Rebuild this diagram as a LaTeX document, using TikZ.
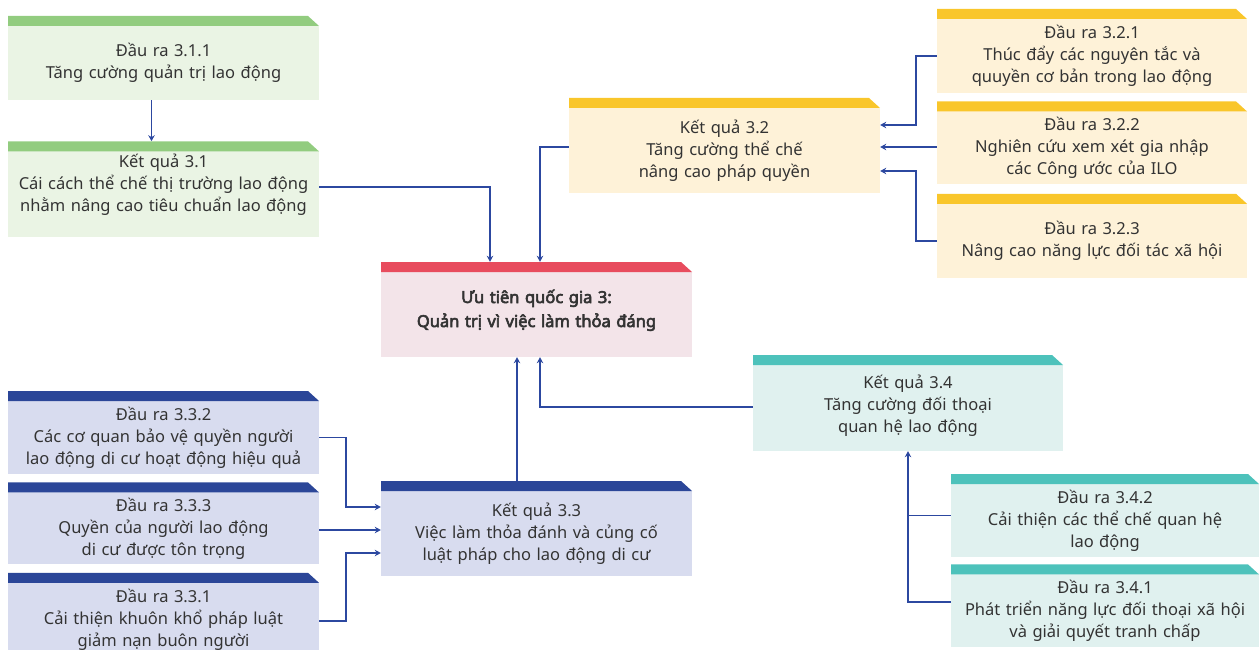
\documentclass[tikz,border=0pt]{standalone}
\usepackage{fontspec}
\setmainfont{Noto Sans}[AutoFakeBold=3.5]
\usepackage{xcolor}
\usetikzlibrary{arrows.meta,positioning}

\definecolor{grnbar}{HTML}{92CC7F}
\definecolor{grnbody}{HTML}{EAF4E4}
\definecolor{ylwbar}{HTML}{F9C62B}
\definecolor{ylwbody}{HTML}{FEF2D8}
\definecolor{redbar}{HTML}{E84C5E}
\definecolor{redbody}{HTML}{F3E4E9}
\definecolor{navbar}{HTML}{2B4698}
\definecolor{navbody}{HTML}{D8DCEF}
\definecolor{tealbar}{HTML}{4DC2BB}
\definecolor{tealbody}{HTML}{E0F1EF}
\definecolor{arrblue}{HTML}{2C48A0}
\definecolor{txtgray}{HTML}{333333}

\begin{document}
\begin{tikzpicture}[
      x=1pt, y=-1pt,
      mybox/.style 2 args={
         rectangle,
         inner sep=0pt,
         minimum width=311pt,
         minimum height=84pt,
         text width=300pt,
         align=center,
         text=txtgray,
         font=\fontsize{16.5}{22}\selectfont,
         execute at begin node={\rule{0pt}{26pt}},
         execute at end node={\rule[-6pt]{0pt}{6pt}},
         path picture={
            \fill[#2] (path picture bounding box.south west) rectangle ([yshift=-10pt]path picture bounding box.north east);
            \fill[#1] (path picture bounding box.north west) -- ([xshift=-11pt]path picture bounding box.north east)
               -- ([yshift=-10pt]path picture bounding box.north east) -- ([yshift=-10pt]path picture bounding box.north west) -- cycle;}},
      myarrow/.style={-{Stealth[length=6pt,width=6.5pt]}, draw=arrblue, line width=1.8pt},
      myline/.style={draw=arrblue, line width=1.8pt},
      node distance=8pt
      ]
\useasboundingbox (0,0) rectangle (1259,650);

% ket qua 3.1
\node[mybox={grnbar}{grnbody}] (o311) at (163.5,58) {Đầu ra 3.1.1\\Tăng cường quản trị lao động};

\node[mybox={grnbar}{grnbody}, minimum height=96pt, below=41pt of o311,
      execute at end node={\rule[-26pt]{0pt}{26pt}}] (r31) {Kết quả 3.1\\Cái cách thể chế thị trường lao động\\nhằm nâng cao tiêu chuẩn lao động};

% ket qua 3.2
\node[mybox={ylwbar}{ylwbody}, minimum height=95pt] (r32) at (724.5,145.5) {Kết quả 3.2\\Tăng cường thể chế\\nâng cao pháp quyền};

\node[mybox={ylwbar}{ylwbody}, minimum width=310pt] (o321) at (1092,51) {Đầu ra 3.2.1\\Thúc đẩy các nguyên tắc và\\quuyền cơ bản trong lao động};

\node[mybox={ylwbar}{ylwbody}, minimum width=310pt, minimum height=83pt, below=of o321] (o322) {Đầu ra 3.2.2\\Nghiên cứu xem xét gia nhập\\các Công ước của ILO};

\node[mybox={ylwbar}{ylwbody}, minimum width=310pt, below=9pt of o322] (o323) {Đầu ra 3.2.3\\Nâng cao năng lực đối tác xã hội};

% uu tien
\node[mybox={redbar}{redbody}, minimum height=95pt, font=\fontsize{16.5}{24}\selectfont\bfseries,
      execute at end node={\rule[-15pt]{0pt}{15pt}}] (prio) at (536.5,309.5) {Ưu tiên quốc gia 3:\\Quản trị vì việc làm thỏa đáng};

% ket qua 3.3
\node[mybox={navbar}{navbody}, minimum height=95pt] (r33) at (536.5,528.5) {Kết quả 3.3\\Việc làm thỏa đánh và củng cố\\luật pháp cho lao động di cư};

\node[mybox={navbar}{navbody}, minimum height=83pt] (o332) at (163.5,432.5) {Đầu ra 3.3.2\\Các cơ quan bảo vệ quyền người\\lao động di cư hoạt động hiệu quả};

\node[mybox={navbar}{navbody}, minimum height=82pt, below=of o332] (o333) {Đầu ra 3.3.3\\Quyền của người lao động\\di cư được tôn trọng};

\node[mybox={navbar}{navbody}, minimum height=83pt, below=of o333] (o331) {Đầu ra 3.3.1\\Cải thiện khuôn khổ pháp luật\\giảm nạn buôn người};

% ket qua 3.4
\node[mybox={tealbar}{tealbody}, minimum width=310pt, minimum height=96pt,
      execute at end node={\rule[-12pt]{0pt}{12pt}}] (r34) at (908,403) {Kết quả 3.4\\Tăng cường đối thoại\\quan hệ lao động};

\node[mybox={tealbar}{tealbody}, minimum width=308pt, minimum height=83pt] (o342) at (1105,515.5) {Đầu ra 3.4.2\\Cải thiện các thể chế quan hệ\\lao động};

\node[mybox={tealbar}{tealbody}, minimum width=308pt, minimum height=83pt, below=7pt of o342] (o341) {Đầu ra 3.4.1\\Phát triển năng lực đối thoại xã hội\\và giải quyết tranh chấp};

% connectors
\draw[myarrow] ([xshift=-12pt]o311.south) -- ([xshift=-12pt]r31.north);
\draw[myarrow] ([yshift=2pt]r31.east) -| ([xshift=-46.5pt]prio.north);
\draw[myarrow] ([yshift=-1.5pt]r32.west) -| ([xshift=3.5pt]prio.north);

\draw[myarrow] ([yshift=-5pt]o321.west) -- ++(-21,0) |- ([yshift=20.5pt]r32.east);
\draw[myarrow] ([yshift=-1.5pt]o322.west |- r32.east) -- ([yshift=-1.5pt]r32.east);
\draw[myarrow] ([yshift=-5pt]o323.west) -- ++(-21,0) |- ([yshift=-25.5pt]r32.east);

\draw[myarrow] ([xshift=-19.5pt]r33.north) -- ([xshift=-19.5pt]prio.south);
\draw[myarrow] ([yshift=-4pt]r34.west) -| ([xshift=3.5pt]prio.south);

\draw[myarrow] ([yshift=-5pt]o332.east) -- ++(27,0) |- ([yshift=21.5pt]r33.west);
\draw[myarrow] ([yshift=-1.5pt]o333.east |- r33.west) -- ([yshift=-1.5pt]r33.west);
\draw[myarrow] ([yshift=-7pt]o331.east) -- ++(27,0) |- ([yshift=-24.5pt]r33.west);

\draw[myline] (o342.west) -- (o342.west -| r34.south);
\draw[myarrow] ([yshift=4pt]o341.west) -| (r34.south);

\end{tikzpicture}
\end{document}
